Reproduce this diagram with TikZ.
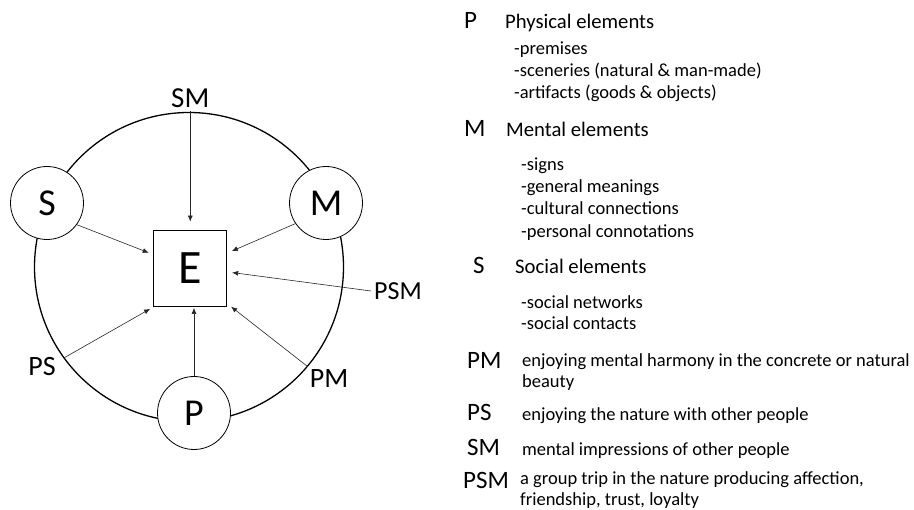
\documentclass[tikz,border=0pt]{standalone}
\usepackage{fontspec}
\setmainfont{Carlito}
\usepackage{tikz}
\usetikzlibrary{arrows.meta,positioning}

\begin{document}
\begin{tikzpicture}
   [x=1pt, y=-1pt,
    ring/.style={circle, draw, line width=1.3pt, minimum size=309pt, inner sep=0pt},
    element/.style={circle, draw, line width=0.8pt, fill=white, minimum size=73pt, inner sep=0pt,
                    font=\fontsize{38}{38}\selectfont},
    experience/.style={draw, line width=0.8pt, fill=white, minimum width=73pt, minimum height=76pt,
                    inner sep=0pt, font=\fontsize{48}{48}\selectfont},
    combo/.style={inner sep=3pt, font=\fontsize{28}{28}\selectfont},
    influence/.style={-{Latex[length=6pt,width=5pt]}, line width=0.6pt, draw=black!85, shorten >=5pt},
    key/.style={anchor=base west, inner sep=0pt, font=\fontsize{25}{25}\selectfont},
    title/.style={anchor=base west, inner sep=0pt, font=\fontsize{20.7}{24}\selectfont},
    item/.style={anchor=base west, inner sep=0pt, align=left, font=\fontsize{18.5}{21.5}\selectfont}]
     \useasboundingbox (0,0) rectangle (914,510);
     % draw ring and elements
     \node (ring) at (189, 267) [ring] {};
     \node (S) at (47, 203) [element] {S};
     \node (M) at (326, 203) [element] {M};
     \node (P) at (194, 413) [element] {P};
     \node (E) at (190.3, 268) [experience] {E};
     % draw combination labels
     \node (SM) at (190.3, 98) [combo, font=\fontsize{29}{29}\selectfont] {SM};
     \node (PSM) at (398, 291) [combo, font=\fontsize{26}{26}\selectfont] {PSM};
     \node (PM) at (329, 379) [combo] {PM};
     \node (PS) at (42, 367) [combo] {PS};
     % draw influences
     \draw [influence, shorten >=8pt] (SM.south) to (E.north);
     \draw [influence] (S.-36) to (E.160);
     \draw [influence] (M.-146) to (E.22);
     \draw [influence] (PSM.west) to (E.-6);
     \draw [influence] (ring.-40) to (E.-44);
     \draw [influence] (ring.-144) to (E.-133);
     \draw [influence, shorten >=1.5pt] (P.north) to (P.north |- E.south);

     % draw legend
     \node (kP) at (464, 29) [key] {P};
     \node (tP) at (505, 29) [title] {Physical elements};
     \foreach \t [count=\i] in {-premises, -sceneries (natural \& man-made), -artifacts (goods \& objects)} {
       \node (iP\i) at (514, 33+22*\i) [item] {\t};
     };
     \node (kM) at (464, 137) [key] {M};
     \node (tM) at (506, 137) [title] {Mental elements};
     \foreach \t [count=\i] in {-signs, -general meanings, -cultural connections, -personal connotations} {
       \node (iM\i) at (521, 148+22.3*\i) [item] {\t};
     };
     \node (kS) at (473, 274) [key] {S};
     \node (tS) at (515, 274) [title] {Social elements};
     \foreach \t [count=\i] in {-social networks, -social contacts} {
       \node (iS\i) at (521, 288+21*\i) [item] {\t};
     };
     % two-line nodes sit on their last line
     \node (kPM) at (467, 369) [key] {PM};
     \node (dPM) at (522, 388) [item] {enjoying mental harmony in the concrete or natural\\beauty};
     \node (kPS) at (467, 421) [key] {PS};
     \node (dPS) at (522, 421) [item] {enjoying the nature with other people};
     \node (kSM) at (467, 456) [key] {SM};
     \node (dSM) at (522, 456) [item] {mental impressions of other people};
     \node (kPSM) at (463, 489) [key] {PSM};
     \node (dPSM) at (520, 506) [item] {a group trip in the nature producing affection,\\friendship, trust, loyalty};
 \end{tikzpicture}
\end{document}
